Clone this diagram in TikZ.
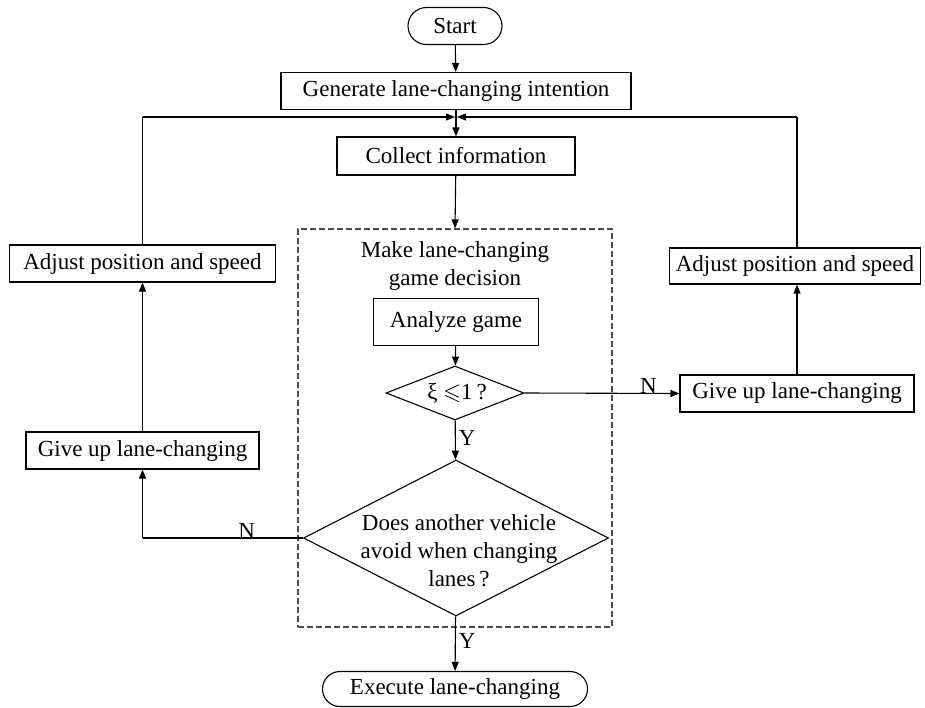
\documentclass[tikz,border=0pt]{standalone}
\usepackage{fontspec}
\usepackage{amssymb}
\setmainfont{Liberation Serif}
\usetikzlibrary{shapes.geometric,shapes.misc,arrows.meta}
\begin{document}
\begin{tikzpicture}[x=1pt,y=-1pt,
  font=\fontsize{23}{28}\selectfont,
  every node/.style={line width=1.1pt, inner sep=0pt},
  box/.style={draw, rectangle},
  term/.style={draw, rounded rectangle},
  dec/.style={draw, diamond},
  grpbox/.style={draw=black!70, dash pattern=on 6pt off 3pt, line width=1.1pt},
  arr/.style={line width=1.1pt, -{Triangle[length=9pt,width=7pt]}},
  ln/.style={line width=1.1pt},
  lbl/.style={inner sep=0pt}]
\useasboundingbox (0,0) rectangle (925,708);
% nodes
\node[term, minimum width=94pt, minimum height=37pt] (start) at (455,26) {Start};
\node[box, minimum width=350pt, minimum height=37pt] (gen) at (456,91) {Generate lane-changing intention};
\coordinate (m) at (456,117);
\node[box, minimum width=238pt, minimum height=38pt] (collect) at (456,156) {Collect information};
\node[grpbox, minimum width=314pt, minimum height=398pt] (grp) at (455,428) {};
\node[lbl, align=center] (title) at (455,266) {Make lane-changing\\game decision};
\node[box, minimum width=165pt, minimum height=47pt] (analyze) at (456,322) {Analyze game};
\node[dec, minimum width=138pt, minimum height=54pt] (d1) at (455,393) {};
\node[lbl] (d1t) at (457,393) {ξ $\leqslant$1\,?};
\node[dec, minimum width=305pt, minimum height=156pt] (d2) at (456,538) {};
\node[lbl, align=center] (d2t) at (459,551) {Does another vehicle\\avoid when changing\\lanes\,?};
\node[term, minimum width=265pt, minimum height=35pt] (exec) at (455,689) {Execute lane-changing};
\node[box, minimum width=234pt, minimum height=37pt] (giveR) at (797,393.5) {Give up lane-changing};
\node[box, minimum width=251pt, minimum height=36pt] (adjR) at (795,266) {Adjust position and speed};
\node[box, minimum width=233pt, minimum height=37pt] (giveL) at (142.5,450.5) {Give up lane-changing};
\node[box, minimum width=266pt, minimum height=37pt] (adjL) at (142.5,263.5) {Adjust position and speed};
% corner coordinates
\coordinate (cl) at (142.5,117);
\coordinate (cr) at (797,117);
\coordinate (cb) at (142.5,538);
% connectors
\draw[arr] (start) -- (gen);
\draw[arr] (gen) -- (collect);
\draw[arr] (collect) -- (grp.north);
\draw[arr] (analyze) -- (d1);
\draw[arr] (d1) -- node[right=3pt, pos=0.45] {Y} (d2);
\draw[arr] (d1.east) -- node[above=-1pt, pos=0.8] {N} (giveR.west);
\draw[arr] (giveR) -- (giveR |- adjR.south);
\draw[ln] (giveR |- adjR.north) -- (cr);
\draw[arr] (cr) -- ([xshift=1pt]m);
\draw[ln] (adjL.north) -- (cl);
\draw[arr] (cl) -- ([xshift=-1pt]m);
\draw[ln] (d2.west) -- node[above=-1pt, pos=0.35] {N} (cb);
\draw[arr] (cb) -- (giveL);
\draw[arr] (giveL) -- (adjL);
\draw[arr] (d2) -- node[right=3pt, pos=0.45] {Y} (exec);
\end{tikzpicture}
\end{document}
